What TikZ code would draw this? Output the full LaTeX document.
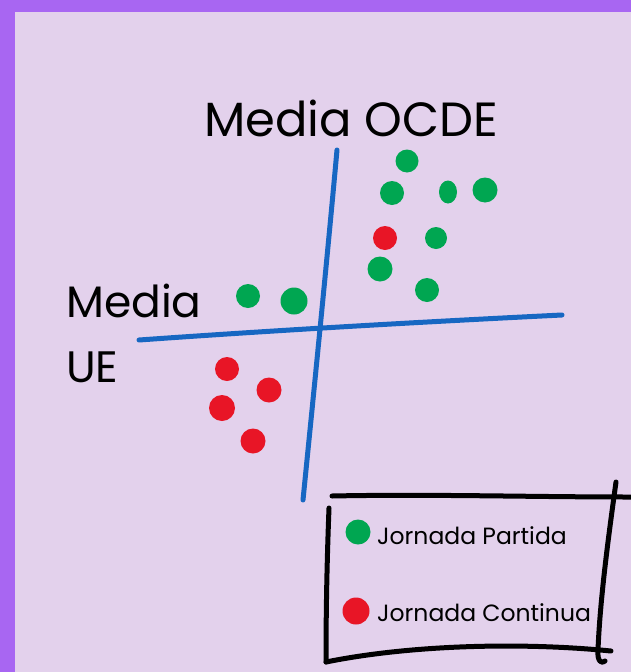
\documentclass[tikz,border=0pt]{standalone}
\usepackage{fontspec}
\usetikzlibrary{shapes.geometric}
\setmainfont{Poppins}
\definecolor{frame}{HTML}{A866F2}
\definecolor{bg}{HTML}{E3D1EC}
\definecolor{axis}{HTML}{1767C2}
\definecolor{dotgreen}{HTML}{00A651}
\definecolor{dotred}{HTML}{E81526}
\tikzset{
  axisline/.style={draw=axis, line width=5pt, line cap=round},
  pen/.style={draw=black, line width=5pt, line cap=round, line join=round},
  gdot/.style={circle, fill=dotgreen, inner sep=0pt, minimum size=24pt},
  rdot/.style={circle, fill=dotred, inner sep=0pt, minimum size=24pt},
  bigtext/.style={font=\fontsize{48}{52}\selectfont, inner sep=0pt},
  midtext/.style={font=\fontsize{44}{48}\selectfont, inner sep=0pt, anchor=west},
  legtext/.style={font=\fontsize{23.5}{27}\selectfont, inner sep=0pt, anchor=west},
}
\begin{document}
\begin{tikzpicture}[x=1pt,y=-1pt]
\useasboundingbox (0,0) rectangle (631,672);
\fill[frame] (0,0) rectangle (631,672);
\fill[bg] (15,12) rectangle (631,672);
% labels
\node[bigtext] (ocde) at (351,118) {Media OCDE};
\node[midtext] (media) at (66,301) {Media};
\node[midtext] (ue) at (66,367) {UE};
% axes
\draw[axisline] (337,150) .. controls (327,260) and (316,370) .. (303,500);
\draw[axisline] (139,340) .. controls (280,330) and (420,322) .. (562,315);
% green dots
\node[gdot, minimum size=23pt] (g1) at (407,161) {};
\node[gdot] (g2) at (392,193) {};
\node[ellipse, fill=dotgreen, inner sep=0pt, minimum width=18pt, minimum height=23pt] (g3) at (448,192) {};
\node[gdot, minimum size=25pt] (g4) at (485,190) {};
\node[gdot, minimum size=22pt] (g5) at (436,238) {};
\node[gdot, minimum size=25pt] (g6) at (380,269) {};
\node[gdot] (g7) at (427,290) {};
\node[gdot] (g8) at (248,296) {};
\node[gdot, minimum size=27pt] (g9) at (294,301) {};
% red dots
\node[rdot] (r1) at (385,238) {};
\node[rdot] (r2) at (227,369) {};
\node[rdot, minimum size=25pt] (r3) at (269,390) {};
\node[rdot, minimum size=26pt] (r4) at (222,408) {};
\node[rdot, minimum size=25pt] (r5) at (253,441) {};
% legend frame
\draw[pen] (332,496) .. controls (430,494) and (530,497) .. (631,497);
\draw[pen] (329,508) .. controls (327,560) and (326,610) .. (326,662);
\draw[pen] (326,662) .. controls (410,645) and (520,642) .. (611,651);
\draw[pen] (616,482) .. controls (608,540) and (600,600) .. (598,650) .. controls (597,662) and (602,664) .. (605,661);
% legend
\node[gdot, minimum size=25pt] (lg) at (358,532) {};
\node[legtext] (lgt) at (377,536) {Jornada Partida};
\node[rdot, minimum size=27pt] (lr) at (356,611) {};
\node[legtext] (lrt) at (377,613) {Jornada Continua};
\end{tikzpicture}
\end{document}
